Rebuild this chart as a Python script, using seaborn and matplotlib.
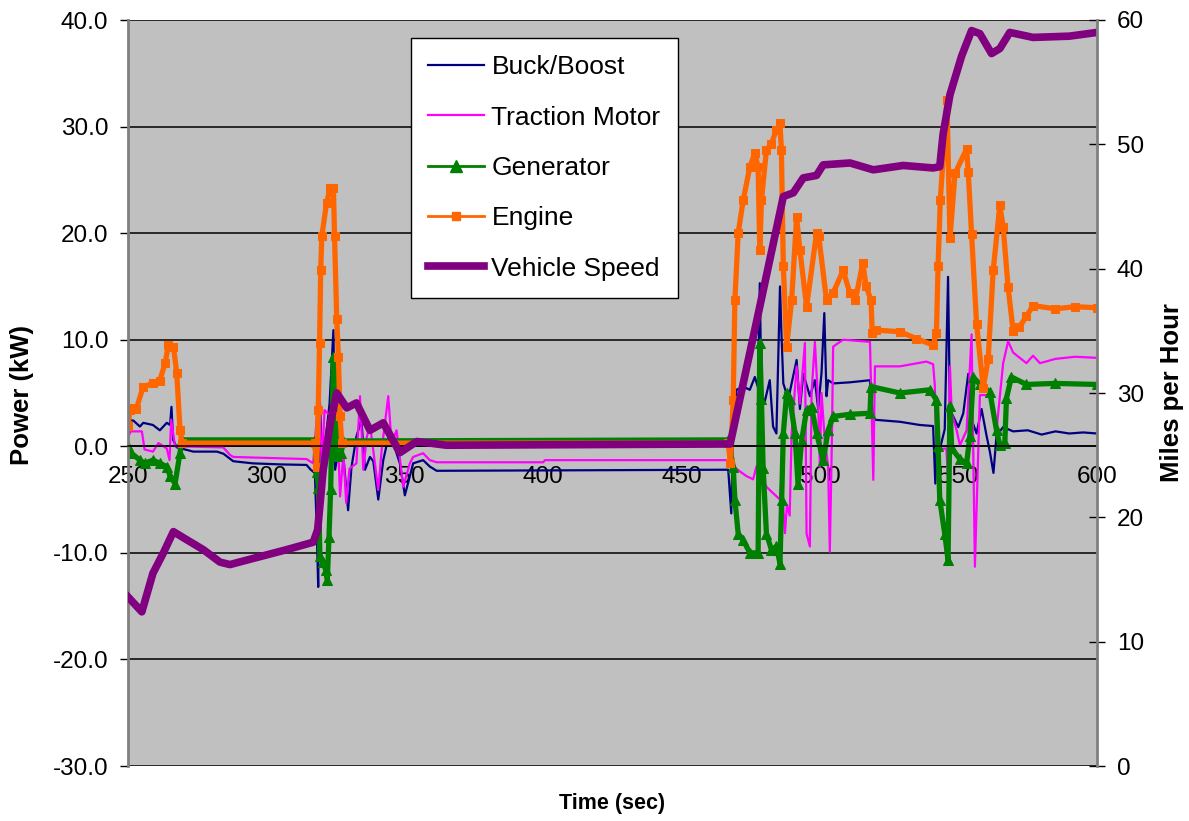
import matplotlib
matplotlib.use("Agg")
import matplotlib.pyplot as plt
from matplotlib.lines import Line2D
from matplotlib.ticker import FormatStrFormatter
import seaborn as sns

plt.rcParams['font.family'] = ['Liberation Sans', 'DejaVu Sans']

# values (time in sec, power in kW, speed in mph)
buck_t = [250, 252, 254.3, 255.5, 259, 261.5, 264, 265.2, 265.7, 266.3, 267.6, 273.6, 282.1, 284.5,
          288, 295, 305, 314.5, 316, 317.5, 318.2, 318.7, 319.3, 320.2, 321.5, 322.8, 324.2, 324.8,
          326, 327.8, 329.5, 330.7, 332.5, 334.3, 335.6, 337.4, 338.6, 340.4, 342.2, 344.6, 345.8,
          348.2, 350, 353, 356.6, 359, 361.5, 466.8, 467.9, 468.6, 469.8, 472.2, 474.6, 476.4, 477.6,
          478.2, 478.8, 480, 481.8, 483, 484.2, 485.5, 486.1, 486.7, 488.5, 489.7, 491.5, 492.7, 493.9,
          496.3, 498.1, 499.3, 500.5, 501.5, 502.3, 502.9, 504.7, 510.7, 518, 519.2, 528.8, 536, 540.8,
          541.6, 542, 543.2, 545, 546.2, 546.9, 547.5, 549.9, 551.7, 553.5, 554.7, 556.5, 558.3, 560.1,
          561.3, 562.6, 563.7, 566.1, 569.7, 575, 580, 585, 590, 595, 600]
buck_kw = [2.5, 2.4, 1.85, 2.2, 2.0, 1.5, 2.2, 2.0, 3.7, 0.6, -0.1, -0.5, -0.5, -0.7,
           -1.4, -1.6, -1.7, -1.75, -2.2, -2.5, -8.0, -13.2, 4.35, -2.2, 0.9, 4.0, 10.9, -2.2,
           -0.5, -1.0, -6.0, -2.0, 0.9, 2.5, -2.2, -1.0, -1.4, -5.0, -1.3, 1.5, 0.3,
           -1.6, -4.6, -1.6, -1.3, -1.9, -2.3, -2.2, -6.3, 2.8, 5.3, 5.6, 5.3, 6.5, 5.5,
           15.3, 4.7, 4.2, 6.2, 1.85, 1.2, 15.0, 10.0, 5.9, 4.4, 5.9, 8.1, 3.5, 6.8,
           4.7, 6.2, 3.5, 6.9, 12.5, 4.7, 6.2, 5.9, 6.0, 6.2, 2.5, 2.3, 2.0, 1.9,
           -3.5, -0.65, -0.3, 1.6, 15.9, 3.1, 3.1, 1.8, 3.1, 6.8, 2.5, 1.2, 3.5, 1.0,
           -0.5, -2.5, 1.0, 1.8, 1.4, 1.5, 1.1, 1.4, 1.2, 1.3, 1.2]

motor_t = [250, 251, 255, 256, 259, 261, 264, 265, 265.6, 267, 284.4, 286.8, 288, 314.5, 316.9,
           318.6, 319.3, 320, 321, 322.5, 325.4, 326.6, 327.8, 328.8, 330, 332.5, 333.8, 335, 336.2,
           337.4, 338.6, 340.4, 341.6, 344, 345.2, 347, 349.4, 351.8, 353, 356.6, 359, 361.5, 400,
           400.6, 467.4, 468.6, 473.4, 475.8, 477, 478.2, 480.6, 483, 485.5, 486, 487.3, 488, 489,
           489.7, 491.5, 492.7, 494.5, 495.1, 496.3, 496.9, 498.1, 499.3, 499.9, 500.5, 501.7, 502.9,
           503.5, 504.2, 504.7, 508.3, 518, 519.2, 519.8, 528.8, 538.4, 540.8, 541.4, 542, 545.6,
           546.3, 546.9, 547.5, 549.3, 550.5, 552.9, 554.7, 555.9, 557.7, 561.3, 563.7, 566.1, 567.9,
           569.7, 574.5, 576.9, 579.4, 585, 592, 600]
motor_kw = [0.9, 1.4, 1.4, -0.3, -0.5, 0.3, -0.2, -1.3, 2.5, 0.0, -0.1, -0.8, -1.0, -1.2, -1.6,
            4.0, 2.8, -1.6, 3.4, 3.0, 3.7, -4.7, -0.65, -5.3, -2.1, -1.6, 4.7, -2.2, 0.8,
            2.0, -0.4, -4.1, -0.4, 4.7, 0.3, 1.5, -3.8, -1.6, -1.0, -0.65, -1.3, -1.5, -1.5,
            -1.3, -1.3, -1.9, -2.8, -3.1, -1.9, -2.5, -3.8, -4.4, -5.0, -3.0, -8.15, -5.5, -6.5,
            1.2, 7.5, 4.0, 9.7, -8.2, -9.4, 5.0, 9.8, 4.0, -1.9, 5.0, 0.5, -1.9,
            -9.9, 0.0, 9.35, 10.0, 9.8, -3.15, 7.5, 7.5, 7.95, 7.7, 5.8, -0.3, -0.2,
            -3.5, 7.5, 3.1, 1.5, 0.1, 1.5, 10.5, -11.3, 4.8, 4.8, 1.5, 7.8, 9.85,
            8.8, 7.8, 8.5, 7.8, 8.2, 8.4, 8.3]

gen_t = [250, 251, 254.3, 256, 259, 261.5, 264, 265.2, 267, 268.8, 269.4, 317.5, 318.2, 318.8,
         319.3, 320.5, 321.4, 322, 322.6, 323.2, 324.2, 324.8, 325.4, 326, 327, 327.8, 466.8, 468.6,
         469.2, 470.4, 472.2, 474.6, 477.6, 478.2, 478.8, 479.4, 480.6, 482.4, 484.2, 485.5, 486.1,
         486.7, 487.9, 489.1, 490.9, 492, 493.3, 495.1, 496.9, 498.7, 501.1, 502.9, 504.7, 510.7,
         518, 518.4, 528.8, 539.6, 542, 542.6, 543.2, 545, 546.2, 546.9, 547.5, 550.5, 552.9, 554.1,
         555.3, 557.7, 561.3, 563.7, 564.9, 566.7, 567.3, 569.1, 574.5, 585, 600]
gen_kw = [0.0, -0.6, -1.3, -1.6, -1.3, -1.6, -1.9, -2.8, -3.5, -0.6, 0.6, 0.6, -2.4, -3.9,
          -10.3, -10.9, -11.6, -12.5, -8.5, -4.0, 8.4, 7.2, -0.9, 2.9, -0.6, 0.5, 0.6, -1.9,
          -5.0, -8.2, -8.8, -10.0, -10.0, 9.7, 4.4, -2.0, -8.2, -9.7, -9.4, -11.0, -5.0,
          1.2, 5.0, 4.4, 1.25, -3.5, 0.5, 3.4, 3.7, 1.25, -1.3, 1.5, 2.8, 3.0,
          3.1, 5.6, 5.0, 5.3, 4.35, 0.0, -5.0, -8.2, -10.7, 3.8, -0.2, -1.2, -1.6, 1.0,
          6.5, 5.8, 5.1, 1.5, 0.1, 0.3, 4.5, 6.5, 5.8, 5.9, 5.8]

engine_t = [250, 250.7, 252, 253, 255.5, 259, 261.4, 263.4, 264.6, 266.4, 267.6, 268.8, 269.5,
            317.5, 318.2, 318.7, 319.2, 319.6, 320, 321.7, 323, 324.2, 324.6, 325.4, 326, 326.6,
            327.2, 466.8, 467.6, 468.6, 469.2, 470.4, 472.2, 474.6, 476.4, 477.6, 478.2, 478.8,
            480.6, 482.4, 484.2, 485.5, 486, 486.7, 487.9, 489.7, 491.5, 492.7, 495.1, 498.7, 499.5,
            502.3, 504.7, 508.3, 510.7, 512.7, 515.4, 516.6, 518.4, 518.8, 520.2, 528.8, 534.8,
            540.8, 542, 542.6, 543.4, 544.6, 545.8, 546.9, 548.7, 552.9, 553.5, 554.7, 556.5, 558.9,
            560.7, 562.5, 564.9, 566.1, 567.9, 569.7, 572, 574.5, 576.9, 585, 592, 600]
engine_kw = [1.9, 3.4, 3.6, 3.5, 5.6, 5.9, 6.1, 7.8, 9.5, 9.35, 6.9, 1.5, 0.3,
             0.3, -1.9, 3.4, 9.7, 16.5, 19.7, 22.8, 24.2, 24.2, 19.7, 11.9, 8.4, 2.8,
             0.3, 0.3, -1.6, 4.35, 13.7, 20.0, 23.1, 26.2, 27.5, 26.2, 18.4, 23.1,
             27.8, 28.4, 29.7, 30.3, 27.8, 16.9, 9.35, 13.7, 21.5, 18.4, 13.1, 20.0, 19.7,
             13.7, 14.4, 16.5, 14.4, 13.7, 17.2, 15.0, 13.7, 10.6, 10.9, 10.75, 10.1,
             9.5, 10.6, 16.9, 23.1, 27.8, 32.5, 19.5, 25.6, 27.9, 25.7, 19.9, 11.5, 5.5,
             8.2, 16.5, 22.6, 20.6, 14.9, 10.85, 11.2, 12.2, 13.2, 12.9, 13.1, 13.0]

speed_t = [250, 255, 259, 262.7, 266.4, 271.2, 277.2, 283.2, 286.8, 295.3, 307.3, 316.9, 318.5,
           320.5, 323, 325.4, 329, 332.5, 337.4, 342.2, 348.2, 354.3, 365, 467.5, 478.2, 486.7,
           490.3, 493.9, 498.7, 501.1, 510.8, 519.2, 530, 540.8, 543.2, 544.4, 546.9, 551.1, 554.7,
           557.7, 561.9, 564.9, 568.5, 576.9, 590, 600]
speed_mph = [13.6, 12.4, 15.5, 17.1, 18.85, 18.2, 17.4, 16.4, 16.2, 16.7, 17.4, 18.0, 19.0,
             23.8, 27.5, 30.0, 28.8, 29.2, 27.0, 27.6, 25.2, 26.1, 25.8, 25.9, 36.95, 45.8,
             46.1, 47.3, 47.5, 48.35, 48.5, 47.95, 48.3, 48.1, 48.2, 50.8, 54.0, 57.1, 59.15,
             58.9, 57.3, 57.7, 59.0, 58.6, 58.7, 59.0]

names = ["Buck/Boost", "Traction Motor", "Generator", "Engine", "Vehicle Speed"]
colors = ["#000080", "#FF00FF", "#008000", "#FF6600", "#800080"]

fig = plt.figure(figsize=(11.89, 8.21), dpi=100)
ax = fig.add_axes([128 / 1189, 1 - 766 / 821, 969 / 1189, 746 / 821])
ax.set_facecolor("#C0C0C0")
ax2 = ax.twinx()

common = dict(estimator=None, sort=False, errorbar=None, legend=False)
sns.lineplot(x=buck_t, y=buck_kw, ax=ax, color=colors[0], lw=1.6, **common)
sns.lineplot(x=motor_t, y=motor_kw, ax=ax, color=colors[1], lw=1.6, **common)
sns.lineplot(x=gen_t, y=gen_kw, ax=ax, color=colors[2], lw=3.8, marker="^", markersize=7.5,
             mec=colors[2], mfc=colors[2], **common)
sns.lineplot(x=engine_t, y=engine_kw, ax=ax, color=colors[3], lw=3.8, marker="s", markersize=5.5,
             mec=colors[3], mfc=colors[3], **common)
sns.lineplot(x=speed_t, y=speed_mph, ax=ax2, color=colors[4], lw=5.5, **common)

ax.set_xlim(250, 600)
ax.set_ylim(-30, 40)
ax2.set_ylim(0, 60)
ax.set_xticks(range(250, 601, 50))
ax.set_yticks(range(-30, 41, 10))
ax2.set_yticks(range(0, 61, 10))
ax.yaxis.set_major_formatter(FormatStrFormatter("%.1f"))
ax.set_xlabel("")
ax.set_ylabel("")
ax2.set_ylabel("")

ax.set_axisbelow(True)
ax.yaxis.grid(True, color="black", lw=1.1)
ax.xaxis.grid(False)

for s in ["top", "right"]:
    ax.spines[s].set_visible(False)
for s in ["top", "bottom", "left"]:
    ax2.spines[s].set_visible(False)
ax.spines["left"].set_color("#808080")
ax.spines["left"].set_linewidth(2)
ax2.spines["right"].set_color("#808080")
ax2.spines["right"].set_linewidth(2)
ax.spines["bottom"].set_position(("data", 0))
ax.spines["bottom"].set_color("black")
ax.spines["bottom"].set_linewidth(1.1)

ax.tick_params(axis="y", direction="out", length=5.8, width=1, labelsize=17.5, pad=8.5)
ax.tick_params(axis="x", length=0, labelsize=17.5, pad=14.4)
ax2.tick_params(axis="y", direction="inout", length=11.5, width=1, labelsize=17.5, pad=8.4)

fig.text(22 / 1189, 1 - 395 / 821, "Power (kW)", rotation=90, ha="center", va="center",
         fontsize=18.5, fontweight="bold")
fig.text(1172 / 1189, 1 - 393 / 821, "Miles per Hour", rotation=90, ha="center", va="center",
         fontsize=18.5, fontweight="bold")
fig.text(612.5 / 1189, 1 - 803 / 821, "Time (sec)", ha="center", va="center",
         fontsize=15.5, fontweight="bold")

handles = [
    Line2D([], [], color=colors[0], lw=1.6),
    Line2D([], [], color=colors[1], lw=1.6),
    Line2D([], [], color=colors[2], lw=2, marker="^", markersize=8),
    Line2D([], [], color=colors[3], lw=2, marker="s", markersize=6),
    Line2D([], [], color=colors[4], lw=5.5),
]
leg = ax2.legend(handles, names, loc="upper left", bbox_to_anchor=(411 / 1189, 1 - 38 / 821),
                 bbox_transform=fig.transFigure, fontsize=19, frameon=True, fancybox=False,
                 shadow=False, framealpha=1, edgecolor="black", facecolor="white",
                 handlelength=2.1, handletextpad=0.3, labelspacing=1.0, borderpad=0.65,
                 borderaxespad=0)
leg.get_frame().set_linewidth(1)

fig.savefig("out.png", dpi=100)
